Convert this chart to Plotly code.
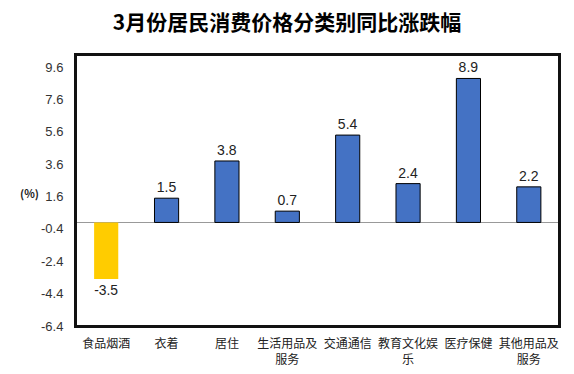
import plotly.graph_objects as go

categories = ["食品烟酒", "衣着", "居住", "生活用品及<br>服务", "交通通信", "教育文化娱<br>乐", "医疗保健", "其他用品及<br>服务"]
values = [-3.5, 1.5, 3.8, 0.7, 5.4, 2.4, 8.9, 2.2]
tick_vals = [-6.4, -4.4, -2.4, -0.4, 1.6, 3.6, 5.6, 7.6, 9.6]
tick_text = ["-6.4", "-4.4", "-2.4", "-0.4", "1.6", "3.6", "5.6", "7.6", "9.6"]

colors = ["#FFCC00" if v < 0 else "#4472C4" for v in values]
line_w = [0 if v < 0 else 1 for v in values]

fig = go.Figure(go.Bar(
    x=categories, y=values,
    marker=dict(color=colors, line=dict(color="black", width=line_w)),
    width=0.4,
    text=[f"{v:.1f}" for v in values],
    textposition="outside",
    textfont=dict(size=14, color="#222222", family="Liberation Sans, Arial, sans-serif"),
    cliponaxis=False,
))

fig.update_layout(
    width=574, height=374,
    margin=dict(l=76, r=15, t=55, b=48),
    paper_bgcolor="white", plot_bgcolor="white",
    font=dict(family="Noto Sans CJK SC, sans-serif", color="#222222"),
    title=dict(text="<b>3月份居民消费价格分类别同比涨跌幅</b>", x=0.5, xanchor="center",
               y=0.94, yanchor="middle", yref="container", font=dict(size=21, color="black")),
    showlegend=False,
)
fig.update_yaxes(range=[-6.4, 10.35], tickvals=tick_vals, ticktext=tick_text, automargin=False,
                 showgrid=False, zeroline=True, zerolinecolor="#999999", zerolinewidth=1,
                 showline=True, linecolor="#111111", linewidth=2, mirror="all", ticks="",
                 ticklabelstandoff=8,
                 tickfont=dict(size=13, family="Liberation Sans, Arial, sans-serif", color="#333333"))
fig.update_xaxes(showline=True, linecolor="#111111", linewidth=2, mirror="all", ticks="", automargin=False,
                 ticklabelstandoff=6,
                 tickfont=dict(size=12, color="#222222"), tickangle=0)
fig.add_shape(type="rect", xref="paper", yref="paper", x0=0, x1=1, y0=0, y1=1,
              line=dict(color="#111111", width=2), fillcolor="rgba(0,0,0,0)", layer="above")
fig.add_annotation(text="<b>(%)</b>", x=-0.12, y=0.49, xref="paper", yref="paper", showarrow=False,
                   font=dict(size=11, color="#222222"))

fig.write_html("out.html", config={"displayModeBar": False},
               post_script="document.body.style.margin='0px';document.body.style.padding='0px';")
